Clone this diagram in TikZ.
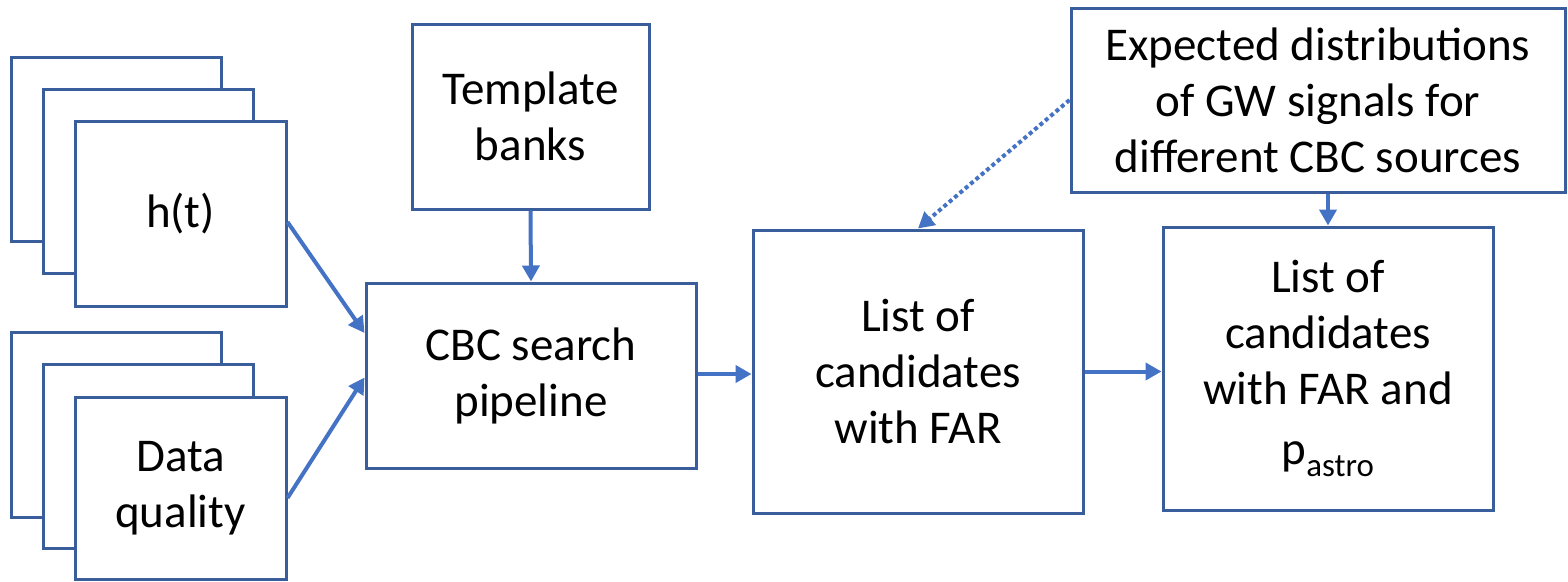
\documentclass[tikz,border=0pt]{standalone}
\usepackage{fontspec}
\setmainfont{Carlito}
\usetikzlibrary{arrows.meta,calc}
\definecolor{boxblue}{HTML}{3A5D9C}
\definecolor{arrblue}{HTML}{4472C4}
\begin{document}
\begin{tikzpicture}[x=1pt,y=-1pt,
  box/.style={draw=boxblue,line width=3pt,fill=white,rectangle,inner sep=0pt,
    align=center,font=\fontsize{47}{56}\selectfont},
  arr/.style={draw=arrblue,line width=4pt,-{Triangle[length=16pt,width=17pt]}},
  dotarr/.style={draw=arrblue,line width=4pt,dash pattern=on 4pt off 3pt,-{Triangle[length=16pt,width=17pt]}}]
\useasboundingbox (0,0) rectangle (1568,581);
% h(t) stack
\node[box,minimum width=210pt,minimum height=184pt] (h3) at (116,149) {};
\node[box,minimum width=210pt,minimum height=184pt] (h2) at (148,181) {};
\node[box,minimum width=211pt,minimum height=185pt] (h1) at (180.5,213.5) {h(t)};
% data quality stack
\node[box,minimum width=210pt,minimum height=185pt] (d3) at (116,424.5) {};
\node[box,minimum width=210pt,minimum height=184pt] (d2) at (148,456) {};
\node[box,minimum width=211pt,minimum height=182pt] (d1) at (180.5,488) {Data\\quality};
% others
\node[box,minimum width=237pt,minimum height=185pt] (tpl) at (530.5,116.5) {Template\\banks};
\node[box,minimum width=330pt,minimum height=185pt] (cbc) at (531,375.5) {CBC search\\pipeline};
\node[box,minimum width=330pt,minimum height=283pt] (far) at (918,371.5) {List of\\candidates\\with FAR};
\node[box,minimum width=330pt,minimum height=283pt] (pas) at (1328,368.5) {List of\\candidates\\with FAR and\\[4pt]p\textsubscript{astro}};
\node[box,minimum width=494pt,minimum height=184pt] (exp) at (1318,100) {Expected distributions\\of GW signals for\\different CBC sources};
% connectors
\draw[arr] ($(h1.east)+(0,8.5)$) -- ($(cbc.west)+(0,-42.5)$);
\draw[arr] ($(d1.east)+(0,10)$) -- ($(cbc.west)+(0,2)$);
\draw[arr] (tpl.south) -- (cbc.north);
\draw[arr] ($(cbc.east)+(0,-1.5)$) -- ($(cbc.east -| far.west)+(0,-1.5)$);
\draw[arr] (far.east) -- (far.east -| pas.west);
\draw[arr] (pas.north |- exp.south) -- (pas.north);
\draw[dotarr] (exp.west) -- (far.north);
\end{tikzpicture}
\end{document}
